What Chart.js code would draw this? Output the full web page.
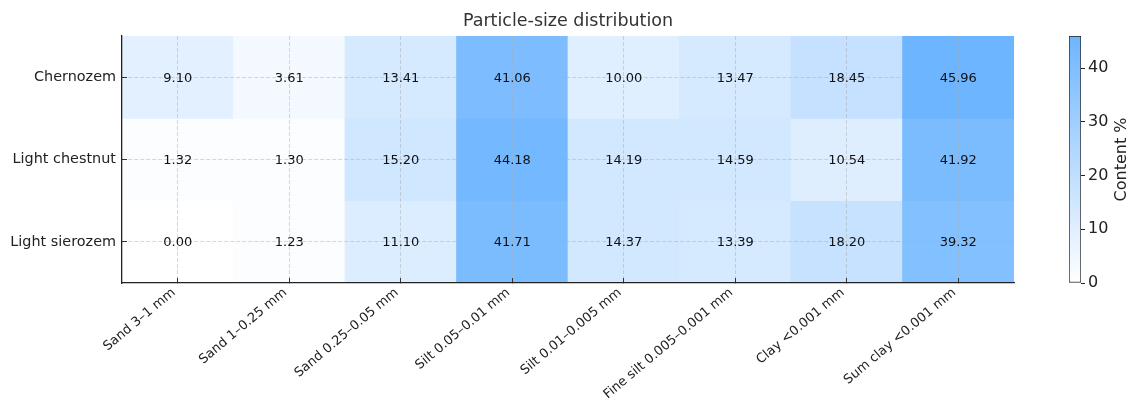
<!DOCTYPE html>
<html>
<head>
<meta charset="utf-8">
<script src="https://cdn.jsdelivr.net/npm/chart.js@4.4.1/dist/chart.umd.min.js"></script>
<style>
  body { margin: 0; background: #fff; }
  #wrap { position: relative; width: 1130px; height: 402px; }
  #heat { position: absolute; left: 0; top: 0; }
  #bar { position: absolute; left: 1040px; top: 0; }
</style>
</head>
<body>
<div id="wrap">
  <canvas id="heat" width="1130" height="402"></canvas>
  <canvas id="bar" width="90" height="402"></canvas>
</div>
<script>
// fractions
const fractions = [
  "Sand 3–1 mm",
  "Sand 1–0.25 mm",
  "Sand 0.25–0.05 mm",
  "Silt 0.05–0.01 mm",
  "Silt 0.01–0.005 mm",
  "Fine silt 0.005–0.001 mm",
  "Clay <0.001 mm",
  "Sum clay <0.001 mm",
];
const soils = ["Chernozem", "Light chestnut", "Light sierozem"];

const chernozem = [9.10, 3.61, 13.41, 41.06, 10.00, 13.47, 18.45, 45.96];
const lightChestnut = [1.32, 1.30, 15.20, 44.18, 14.19, 14.59, 10.54, 41.92];
const lightSierozem = [0.00, 1.23, 11.10, 41.71, 14.37, 13.39, 18.20, 39.32];
const rowValues = [chernozem, lightChestnut, lightSierozem];

const colorbarTicks = [0, 10, 20, 30, 40];
const vmin = 0;
const vmax = Math.max(...rowValues.flat());

const FONT = "'DejaVu Sans', sans-serif";
const LOW = [255, 255, 255];
const HIGH = [110, 181, 255];

function colorFor(v) {
  const t = Math.min(1, Math.max(0, (v - vmin) / (vmax - vmin)));
  const c = LOW.map((a, i) => Math.round(a + (HIGH[i] - a) * t));
  return `rgb(${c[0]},${c[1]},${c[2]})`;
}

// value text in every cell
const cellLabels = {
  id: "cellLabels",
  afterDraw(chart) {
    const { ctx, scales } = chart;
    ctx.save();
    ctx.font = `13px ${FONT}`;
    ctx.fillStyle = "#111";
    ctx.textAlign = "center";
    ctx.textBaseline = "middle";
    rowValues.forEach((vals, r) => {
      const y = scales.y.getPixelForValue(r + 0.5);
      vals.forEach((v, c) => {
        const x = scales.x.getPixelForValue(c);
        ctx.fillText(v.toFixed(2), x, y + 1);
      });
    });
    ctx.restore();
  },
};

const gridOpts = {
  z: 1,
  color: "rgba(170,170,170,0.6)",
  lineWidth: 0.8,
  tickLength: -5,
  tickColor: "#333",
  tickWidth: 1,
};

new Chart(document.getElementById("heat"), {
  type: "bar",
  data: {
    labels: fractions,
    datasets: rowValues.map((vals, r) => ({
      label: soils[r],
      data: vals.map(() => [r, r + 1]),
      backgroundColor: vals.map(colorFor),
      borderWidth: 0,
      barPercentage: 1,
      categoryPercentage: 1,
      grouped: false,
    })),
  },
  options: {
    responsive: false,
    animation: false,
    layout: { padding: { left: 0, right: 116, top: 0, bottom: 0 } },
    plugins: {
      legend: { display: false },
      tooltip: { enabled: false },
      title: {
        display: true,
        text: "Particle-size distribution",
        fullSize: false,
        color: "#333",
        font: { family: FONT, size: 17.5, weight: "normal" },
        padding: { top: 11, bottom: 4 },
      },
    },
    scales: {
      x: {
        offset: true,
        grid: { ...gridOpts, offset: false },
        border: { display: true, color: "#222", width: 1.3, dash: [4, 2], z: 1 },
        ticks: {
          autoSkip: false,
          minRotation: 40,
          maxRotation: 40,
          padding: 7,
          labelOffset: -4,
          color: "#222",
          font: { family: FONT, size: 13 },
        },
        afterFit(scale) { scale.height = 119; },
      },
      y: {
        min: 0,
        max: 3,
        reverse: true,
        grid: { ...gridOpts },
        border: { display: true, color: "#222", width: 1.3, dash: [4, 2], z: 1 },
        afterBuildTicks(scale) {
          scale.ticks = soils.map((s, i) => ({ value: i + 0.5 }));
        },
        ticks: {
          padding: 11,
          color: "#222",
          font: { family: FONT, size: 14.4 },
          callback: (v) => soils[Math.floor(v)],
        },
        afterFit(scale) { scale.width = 122; },
      },
    },
  },
  plugins: [cellLabels],
});

// colorbar
const colorbarTitle = {
  id: "colorbarTitle",
  afterDraw(chart) {
    const { ctx, chartArea } = chart;
    ctx.save();
    ctx.translate(82, (chartArea.top + chartArea.bottom) / 2);
    ctx.rotate(-Math.PI / 2);
    ctx.font = `16px ${FONT}`;
    ctx.fillStyle = "#222";
    ctx.textAlign = "center";
    ctx.textBaseline = "middle";
    ctx.fillText("Content %", 0, 0);
    ctx.restore();
  },
};

new Chart(document.getElementById("bar"), {
  type: "bar",
  data: {
    labels: ["scale"],
    datasets: [{
      data: [[vmin, vmax]],
      backgroundColor(context) {
        const area = context.chart.chartArea;
        if (!area) return colorFor(vmax);
        const g = context.chart.ctx.createLinearGradient(0, area.bottom, 0, area.top);
        g.addColorStop(0, colorFor(vmin));
        g.addColorStop(1, colorFor(vmax));
        return g;
      },
      borderColor: "#222",
      borderWidth: 1,
      borderSkipped: false,
      barPercentage: 1,
      categoryPercentage: 1,
    }],
  },
  options: {
    responsive: false,
    animation: false,
    layout: { padding: { left: 29, right: 0, top: 36, bottom: 119 } },
    plugins: { legend: { display: false }, tooltip: { enabled: false } },
    scales: {
      x: { display: false },
      y: {
        position: "right",
        min: vmin,
        max: vmax,
        grid: { drawOnChartArea: false, tickLength: 4, tickColor: "#222" },
        border: { display: false },
        afterBuildTicks(scale) {
          scale.ticks = colorbarTicks.map((v) => ({ value: v }));
        },
        ticks: {
          padding: 3,
          color: "#222",
          font: { family: FONT, size: 16 },
        },
        afterFit(scale) { scale.width = 49; },
      },
    },
  },
  plugins: [colorbarTitle],
});
</script>
</body>
</html>
